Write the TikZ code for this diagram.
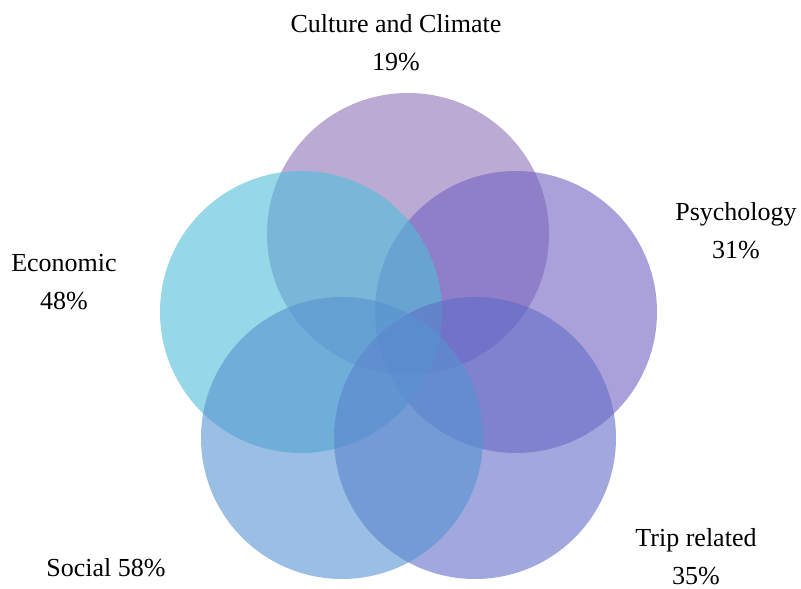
\documentclass[tikz,border=0pt]{standalone}
\usepackage{fontspec}
\setmainfont{Liberation Serif}
\usepackage{tikz}
\definecolor{cultc}{RGB}{142,113,183}
\definecolor{psyc}{RGB}{113,97,193}
\definecolor{ecoc}{RGB}{80,190,217}
\definecolor{socc}{RGB}{88,147,210}
\definecolor{tripc}{RGB}{97,110,200}
\tikzset{set/.style={circle,inner sep=0pt,minimum size=282pt,fill opacity=.6},lab/.style={inner sep=0pt,align=center,font=\fontsize{26}{38}\selectfont}}
\begin{document}
\begin{tikzpicture}[x=1pt,y=1pt]
  \useasboundingbox (0,0) rectangle (801,589);
  \node[set,fill=cultc] (cult) at (408,355) {};
  \node[set,fill=psyc] (psy) at (516,277) {};
  \node[set,fill=ecoc] (eco) at (301,277) {};
  \node[set,fill=tripc] (trip) at (475,151) {};
  \node[set,fill=socc] (soc) at (342,151) {};
  \node[lab] (lcult) at (396,546) {Culture and Climate\\19\%};
  \node[lab] (lpsy) at (736,358) {Psychology\\31\%};
  \node[lab] (leco) at (64,307) {Economic\\48\%};
  \node[lab] (lsoc) at (106,21) {Social 58\%};
  \node[lab] (ltrip) at (696,32) {Trip related\\35\%};
\end{tikzpicture}
\end{document}
